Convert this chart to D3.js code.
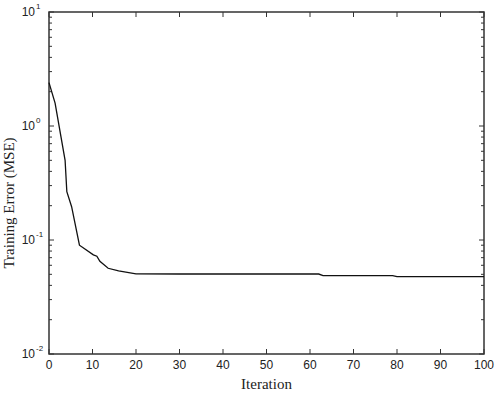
<!DOCTYPE html>
<html>
<head>
<meta charset="utf-8">
<script src="https://cdn.jsdelivr.net/npm/d3@7"></script>
<style>
    body { margin: 0; background: #fff; }
    svg { display: block; }
</style>
</head>
<body>
<div id="chart"></div>
<script>
const iterations = [0, 1.4, 3.7, 4.1, 5.2, 7, 10.2, 11, 11.7, 13.6, 16, 20, 30, 40, 50, 62, 63, 79, 80, 90, 100];
const trainingError = [2.4, 1.59, 0.50, 0.265, 0.196, 0.090, 0.074, 0.072, 0.065, 0.0565, 0.0535, 0.0504,
    0.0503, 0.0503, 0.0503, 0.0503, 0.0486, 0.0486, 0.0477, 0.0477, 0.0477];
const xTicks = [0, 10, 20, 30, 40, 50, 60, 70, 80, 90, 100];
const yDecades = [-2, -1, 0, 1];

const width = 496, height = 395;
const margin = {left: 49, right: 12, top: 12, bottom: 41};

const svg = d3.select('#chart')
    .append('svg')
    .attr('width', width)
    .attr('height', height);

const x = d3.scaleLinear()
    .domain([0, 100])
    .range([margin.left, width - margin.right]);

const y = d3.scaleLog()
    .domain([0.01, 10])
    .range([height - margin.bottom, margin.top]);

// minor ticks for log axis
let minorValues = [];
for (let d = -2; d < 1; d++) {
    for (let m = 2; m <= 9; m++) {
        minorValues.push(m * Math.pow(10, d));
    }
}

const axisColor = '#333';
const x0 = x(0), x1 = x(100), y0 = y(0.01), y1 = y(10);

// x ticks, bottom and top, pointing inward
svg.selectAll('.xtickB')
    .data(xTicks)
    .enter()
    .append('line')
    .attr('x1', d => x(d)).attr('x2', d => x(d))
    .attr('y1', y0).attr('y2', y0 - 5)
    .attr('stroke', axisColor).attr('stroke-width', 1);

svg.selectAll('.xtickT')
    .data(xTicks)
    .enter()
    .append('line')
    .attr('x1', d => x(d)).attr('x2', d => x(d))
    .attr('y1', y1).attr('y2', y1 + 5)
    .attr('stroke', axisColor).attr('stroke-width', 1);

// y major and minor ticks, left and right
[[x0, 1], [x1, -1]].forEach(([px, dir]) => {
    svg.selectAll(null)
        .data(yDecades)
        .enter()
        .append('line')
        .attr('x1', px).attr('x2', px + dir * 5)
        .attr('y1', d => y(Math.pow(10, d))).attr('y2', d => y(Math.pow(10, d)))
        .attr('stroke', axisColor).attr('stroke-width', 1);
    svg.selectAll(null)
        .data(minorValues)
        .enter()
        .append('line')
        .attr('x1', px).attr('x2', px + dir * 3)
        .attr('y1', d => y(d)).attr('y2', d => y(d))
        .attr('stroke', axisColor).attr('stroke-width', 1);
});

// box
svg.append('rect')
    .attr('x', x0).attr('y', y1)
    .attr('width', x1 - x0).attr('height', y0 - y1)
    .attr('fill', 'none')
    .attr('stroke', axisColor)
    .attr('stroke-width', 1.5);

// x tick labels
svg.selectAll('.xlabel')
    .data(xTicks)
    .enter()
    .append('text')
    .attr('x', d => x(d))
    .attr('y', y0 + 15)
    .attr('text-anchor', 'middle')
    .attr('font-family', 'Liberation Sans, Arial, sans-serif')
    .attr('font-size', 12)
    .attr('fill', '#222')
    .text(d => d);

// y tick labels 10^n
const yLabels = svg.selectAll('.ylabel')
    .data(yDecades)
    .enter()
    .append('text')
    .attr('x', x0 - 14)
    .attr('y', d => y(Math.pow(10, d)) + 4)
    .attr('text-anchor', 'end')
    .attr('font-family', 'Liberation Sans, Arial, sans-serif')
    .attr('font-size', 12)
    .attr('fill', '#222')
    .text('10');

svg.selectAll('.yexp')
    .data(yDecades)
    .enter()
    .append('text')
    .attr('x', x0 - 13)
    .attr('y', d => y(Math.pow(10, d)) - 3)
    .attr('text-anchor', 'start')
    .attr('font-family', 'Liberation Sans, Arial, sans-serif')
    .attr('font-size', 8)
    .attr('fill', '#222')
    .text(d => d);

// axis titles
svg.append('text')
    .attr('x', (x0 + x1) / 2)
    .attr('y', height - 6)
    .attr('text-anchor', 'middle')
    .attr('font-family', 'Liberation Serif, Times New Roman, serif')
    .attr('font-size', 15)
    .attr('fill', '#222')
    .text('Iteration');

svg.append('text')
    .attr('transform', 'translate(14,' + ((y0 + y1) / 2 + 20) + ') rotate(-90)')
    .attr('text-anchor', 'middle')
    .attr('font-family', 'Liberation Serif, Times New Roman, serif')
    .attr('font-size', 15)
    .attr('fill', '#222')
    .text('Training Error (MSE)');

// the curve
const line = d3.line()
    .x((d, i) => x(iterations[i]))
    .y(d => y(d));

svg.append('path')
    .datum(trainingError)
    .attr('d', line)
    .attr('fill', 'none')
    .attr('stroke', '#111')
    .attr('stroke-width', 1.3);
</script>
</body>
</html>
